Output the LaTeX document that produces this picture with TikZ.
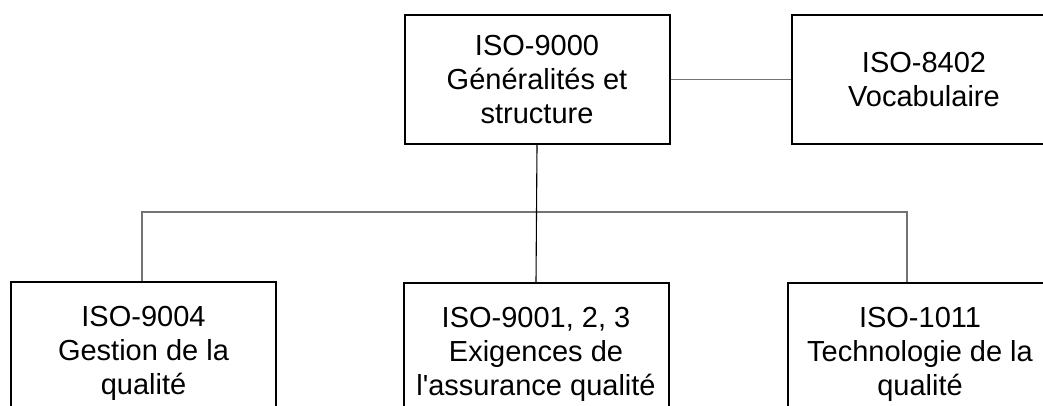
\documentclass[tikz,border=0pt]{standalone}
\usepackage{fontspec}
\setmainfont{Liberation Sans}[Ligatures=TeXOff]
\begin{document}
\begin{tikzpicture}[x=1pt,y=-1pt,
  box/.style={draw=black,line width=2pt,minimum width=265pt,minimum height=129pt,
    align=center,inner sep=0pt,font=\fontsize{29}{34}\selectfont},
  lowbox/.style={box,minimum height=142pt},
  conn/.style={draw=black!55,line width=1.6pt},
  mainline/.style={draw=black,line width=1.1pt}]
\useasboundingbox (0,0) rectangle (1043,405);
\clip (0,0) rectangle (1043,405);
\node[box] (top) at (537,79.5) {ISO-9000\\Généralités et\\structure};
\node[box] (voc) at (924,79.5) {ISO-8402\\Vocabulaire};
\node[lowbox] (lb) at (143.5,353) {ISO-9004\\Gestion de la\\qualité};
\node[lowbox] (mb) at (536,354) {ISO-9001, 2, 3\\Exigences de\\l'assurance qualité};
\node[lowbox] (rb) at (920,354) {ISO-1011\\Technologie de la\\qualité};
\coordinate (bl) at (142,212);
\coordinate (br) at (907,212);
\draw[conn] (top.east) -- (voc.west);
\draw[conn] (lb.north -| bl) -- (bl) -- (br) -- (br |- rb.north);
\draw[mainline] (top.south) -- (mb.north);
\end{tikzpicture}
\end{document}
